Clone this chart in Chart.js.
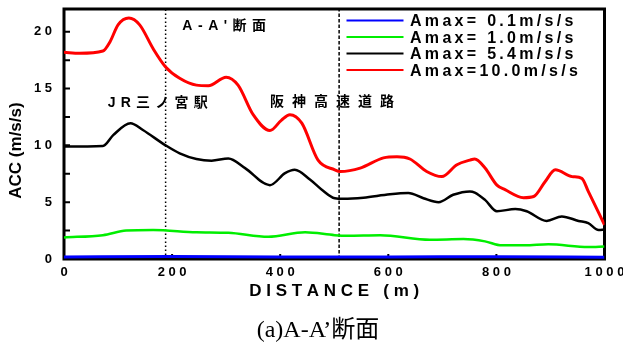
<!DOCTYPE html>
<html>
<head>
<meta charset="utf-8">
<script src="https://cdn.jsdelivr.net/npm/chart.js@4.4.1/dist/chart.umd.min.js"></script>
<style>
  html, body { margin: 0; padding: 0; background: #ffffff; }
  #wrap { width: 623px; height: 351px; }
</style>
</head>
<body>
<div id="wrap"><canvas id="c" width="623" height="351"></canvas></div>
<script>
// Peak input acceleration of each run (m/s/s)
const amaxLevels = [' 0.1', ' 1.0', ' 5.4', '10.0'];
const lineColors = ['#0000ff', '#00ee00', '#000000', '#ff0000'];
const lineWidths = [3, 2.5, 2.5, 3];

// Surface response along section A-A' : distance (m) and ACC (m/s/s)
const dist01 = [0, 200, 400, 600, 800, 1000];
const acc01  = [0.18, 0.22, 0.18, 0.18, 0.2, 0.15];

const dist10 = [0, 72, 115, 165, 245, 304, 378, 446, 501, 523, 585, 677, 739, 779, 810, 853, 896, 970, 1000];
const acc10  = [1.9, 2.1, 2.5, 2.55, 2.35, 2.3, 1.95, 2.35, 2.1, 2.05, 2.1, 1.7, 1.75, 1.55, 1.2, 1.2, 1.3, 1.05, 1.1];

const dist54 = [0, 72, 91, 123, 146, 188, 214, 245, 273, 304, 335, 381, 409, 427, 455, 477, 501, 517, 554, 603, 637, 665, 693, 720, 751, 760, 779, 801, 835, 856, 893, 921, 952, 970, 989, 1000];
const acc54  = [9.9, 9.95, 10.9, 11.95, 11.35, 10.0, 9.3, 8.8, 8.65, 8.85, 8.0, 6.5, 7.55, 7.85, 7.0, 6.1, 5.35, 5.3, 5.4, 5.7, 5.8, 5.35, 5.0, 5.65, 5.95, 5.85, 5.2, 4.2, 4.4, 4.2, 3.35, 3.75, 3.35, 3.15, 2.55, 2.6];

const dist100 = [0, 29, 72, 85, 100, 120, 140, 165, 188, 214, 245, 267, 300, 322, 350, 381, 402, 418, 440, 470, 501, 511, 548, 591, 616, 640, 671, 699, 727, 751, 760, 779, 801, 816, 850, 869, 890, 909, 940, 958, 970, 1000];
const acc100  = [18.2, 18.1, 18.3, 19.1, 20.6, 21.2, 20.6, 18.5, 16.9, 15.9, 15.3, 15.25, 16.0, 15.3, 12.7, 11.3, 12.2, 12.7, 11.95, 8.7, 7.85, 7.7, 8.0, 8.9, 9.0, 8.8, 7.7, 7.25, 8.3, 8.7, 8.8, 8.0, 6.5, 6.1, 5.4, 5.5, 6.8, 7.85, 7.25, 7.1, 5.95, 3.0];

const seriesDist = [dist01, dist10, dist54, dist100];
const seriesAcc  = [acc01, acc10, acc54, acc100];

// Section boundaries (m): station edge and expressway edge
const boundaryDist = [188, 509];
const boundaryDash = [[1.5, 2.5], [3.5, 2]];

// Tick labels
const xTickLabels = [0, 200, 400, 600, 800, 1000];
const yTickLabels = [0, 5, 10, 15, 20];

// Text labels placed in data units (left edge, vertical centre)
const noteTexts = ["A-A'断面", 'JR三ノ宮駅', '阪神高速道路'];
const noteDist  = [219, 81, 381];
const noteAcc   = [20.45, 13.75, 13.8];
const noteSpacing = [5.5, 5.2, 8.0];

const captionText = '(a)A-A’断面';

const SANS = '"Liberation Sans", Arial, "Noto Sans CJK JP", sans-serif';

const datasets = [];
seriesAcc.forEach((acc, i) => {
  datasets.push({
    label: 'Amax=' + amaxLevels[i] + 'm/s/s',
    data: acc.map((v, k) => ({ x: seriesDist[i][k], y: v })),
    borderColor: lineColors[i],
    borderWidth: lineWidths[i],
    pointRadius: 0,
    cubicInterpolationMode: 'monotone',
    fill: false,
    inLegend: true,
    order: 4 - i
  });
});
boundaryDist.forEach((d, i) => {
  datasets.push({
    label: 'boundary' + i,
    data: [{ x: d, y: 0 }, { x: d, y: 22 }],
    borderColor: '#000000',
    borderWidth: 1.5,
    borderDash: boundaryDash[i],
    pointRadius: 0,
    tension: 0,
    fill: false,
    inLegend: false,
    order: 10
  });
});

const spaced = s => String(s).split('').join(' ');

// Heavy frame with inward-pointing ticks
const framePlugin = {
  id: 'frame',
  beforeDatasetsDraw(chart) {
    const { ctx, chartArea: a, scales: { x, y } } = chart;
    ctx.save();
    ctx.strokeStyle = '#000';
    ctx.lineWidth = 3;
    ctx.strokeRect(a.left, a.top, a.right - a.left, a.bottom - a.top);
    ctx.lineWidth = 2;
    ctx.beginPath();
    x.ticks.forEach(t => {
      const px = x.getPixelForValue(t.value);
      const len = xTickLabels.includes(t.value) ? 5 : 3;
      ctx.moveTo(px, a.bottom);
      ctx.lineTo(px, a.bottom - len);
    });
    y.ticks.forEach(t => {
      const py = y.getPixelForValue(t.value);
      ctx.moveTo(a.left, py);
      ctx.lineTo(a.left + 6, py);
    });
    ctx.stroke();
    ctx.restore();
  }
};

// Legend box, section notes and figure caption
const textPlugin = {
  id: 'texts',
  afterDraw(chart) {
    const { ctx, chartArea: a, scales: { x, y } } = chart;
    ctx.save();
    // legend
    ctx.font = 'bold 16px ' + SANS;
    ctx.letterSpacing = '3.3px';
    ctx.textAlign = 'left';
    ctx.textBaseline = 'alphabetic';
    const rows = chart.data.datasets.filter(d => d.inLegend);
    rows.forEach((d, i) => {
      const ry = a.top + 11.5 + i * 16.5;
      ctx.strokeStyle = d.borderColor;
      ctx.lineWidth = 2;
      ctx.beginPath();
      ctx.moveTo(a.right - 258, ry);
      ctx.lineTo(a.right - 201, ry);
      ctx.stroke();
      ctx.fillStyle = '#000';
      ctx.fillText(d.label, a.right - 194.5, ry + 5.6);
    });
    // notes
    ctx.font = 'bold 14px ' + SANS;
    ctx.textBaseline = 'middle';
    noteTexts.forEach((t, i) => {
      ctx.letterSpacing = noteSpacing[i] + 'px';
      ctx.fillText(t, x.getPixelForValue(noteDist[i]), y.getPixelForValue(noteAcc[i]));
    });
    // caption
    ctx.letterSpacing = '0px';
    ctx.font = '24px "Liberation Serif", "Times New Roman", "Noto Sans CJK JP", serif';
    ctx.textAlign = 'center';
    ctx.fillText(captionText, 318, 331);
    ctx.restore();
  }
};

new Chart(document.getElementById('c'), {
  type: 'line',
  data: { datasets },
  options: {
    responsive: false,
    animation: false,
    devicePixelRatio: 1,
    layout: { padding: { top: 9, right: 18.5, left: 0, bottom: 0 } },
    plugins: { legend: { display: false }, tooltip: { enabled: false }, title: { display: false } },
    scales: {
      x: {
        type: 'linear',
        min: 0, max: 1000,
        grid: { display: false, drawTicks: false },
        border: { display: false },
        ticks: {
          stepSize: 100,
          padding: 6,
          maxRotation: 0,
          autoSkip: false,
          color: '#000',
          font: { family: SANS, size: 13, weight: 'bold' },
          callback: v => xTickLabels.includes(v) ? spaced(v) : ''
        },
        title: {
          display: true,
          text: 'D I S T A N C E   ( m )',
          color: '#000',
          font: { family: SANS, size: 17, weight: 'bold' },
          padding: { top: 0, bottom: 49 }
        },
        afterFit(s) { s.height = 92; s.paddingLeft = 0; s.paddingRight = 0; }
      },
      y: {
        type: 'linear',
        min: 0, max: 22,
        grid: { display: false, drawTicks: false },
        border: { display: false },
        ticks: {
          stepSize: 2.5,
          includeBounds: false,
          padding: 12,
          autoSkip: false,
          color: '#000',
          font: { family: SANS, size: 13, weight: 'bold' },
          callback: v => yTickLabels.includes(v) ? spaced(v) : ''
        },
        title: {
          display: true,
          text: 'ACC (m/s/s)\u00a0\u00a0\u00a0\u00a0\u00a0\u00a0\u00a0',
          color: '#000',
          font: { family: SANS, size: 17, weight: 'bold' },
          padding: { top: 5.8, bottom: 0 }
        },
        afterFit(s) { s.width = 64; s.paddingTop = 0; s.paddingBottom = 0; }
      }
    }
  },
  plugins: [framePlugin, textPlugin]
});
</script>
</body>
</html>
